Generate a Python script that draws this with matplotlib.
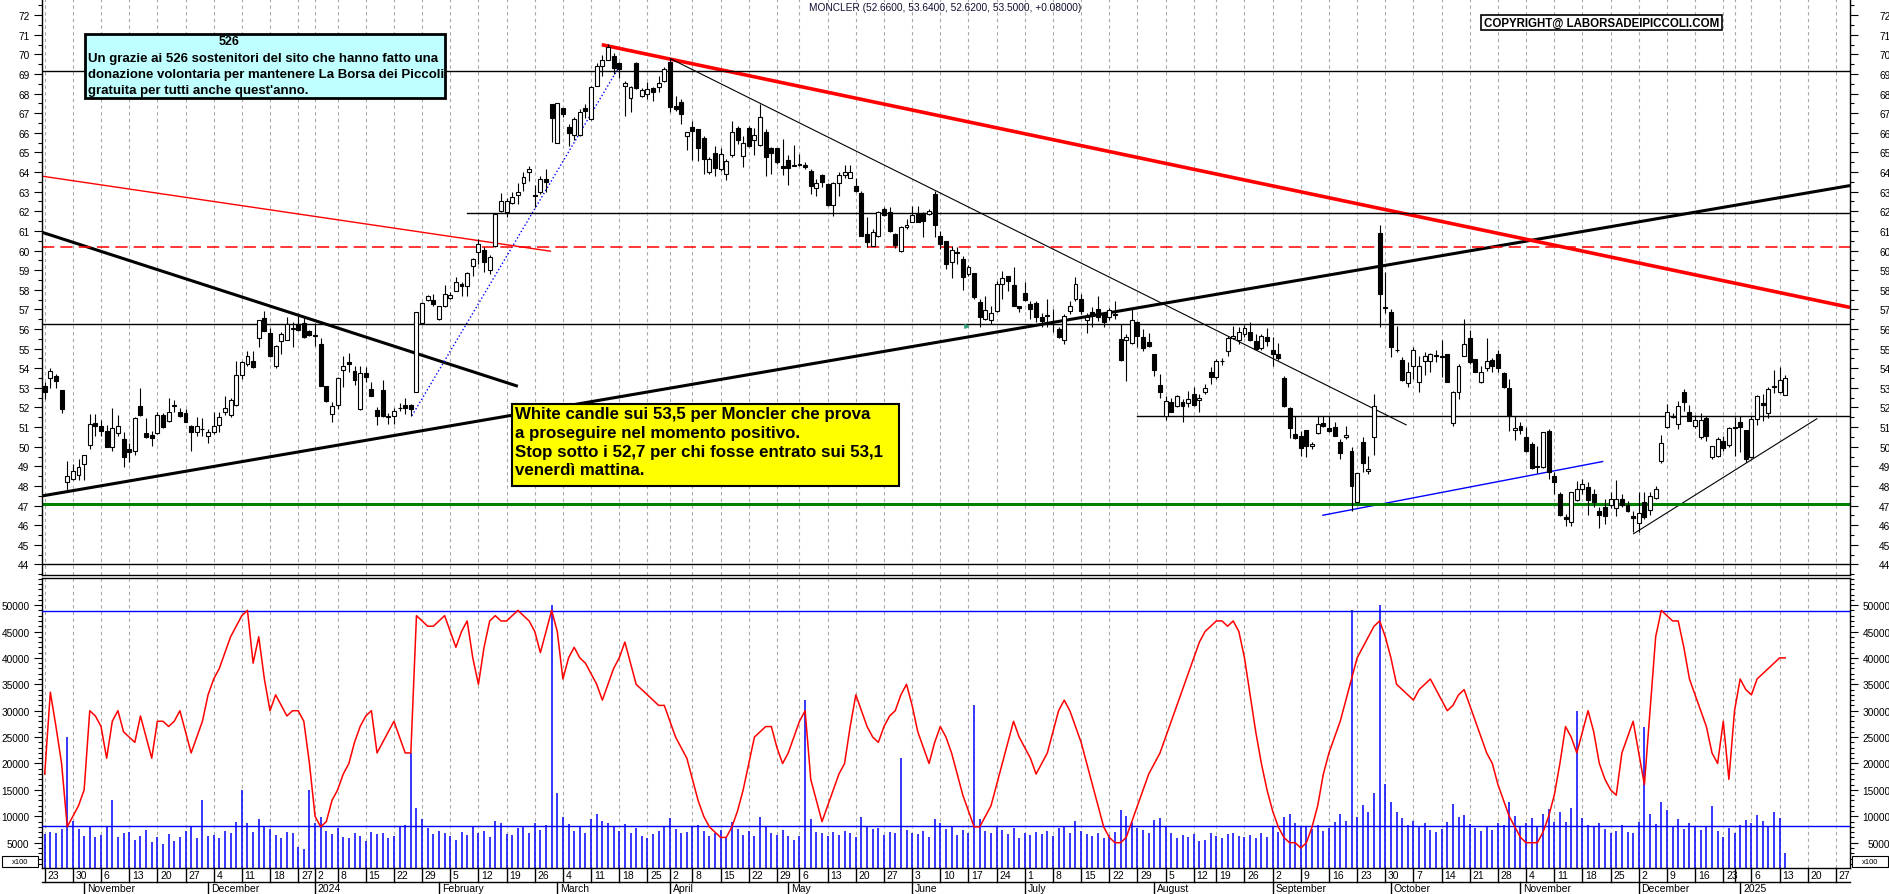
import matplotlib
matplotlib.use("Agg")
import matplotlib.pyplot as plt
from matplotlib.patches import Rectangle
import numpy as np
import pandas as pd

plt.rcParams["font.family"] = ["Liberation Sans", "DejaVu Sans"]

W, H = 1890, 895

# calendario di borsa (Borsa Italiana, festivi esclusi)
holidays = ["2023-12-25", "2023-12-26", "2024-01-01", "2024-03-29", "2024-04-01",
            "2024-05-01", "2024-08-15", "2024-12-24", "2024-12-25", "2024-12-26",
            "2024-12-31", "2025-01-01"]
cal = pd.bdate_range("2023-10-23", "2025-02-07")
cal = cal[~cal.isin(pd.to_datetime(holidays))]

opens = [53.07, 53.48, 53.6, 52.9, 48.18, 48.35, 48.55, 49.1, 50.08, 51.2,
         51.03, 50.78, 50.0, 50.7, 50.39, 49.9, 49.8, 52.05, 50.68, 50.59,
         50.7, 51.6, 51.29, 52.12, 51.75, 51.72, 51.07, 50.73, 50.9, 50.56,
         50.76, 51.13, 51.78, 51.6, 52.12, 53.67, 54.21, 54.38, 55.52, 56.56,
         55.79, 54.13, 55.38, 55.45, 56.0, 56.25, 56.3, 55.88, 55.7, 55.23,
         53.07, 51.66, 52.12, 53.92, 54.3, 53.84, 51.92, 53.75, 52.94, 51.87,
         52.89, 51.54, 51.54, 51.98, 52.15, 52.14, 52.77, 56.3, 57.49, 57.49,
         56.5, 57.15, 57.56, 57.95, 58.29, 58.17, 59.22, 59.94, 60.04, 59.0,
         60.24, 62.02, 61.97, 62.42, 62.83, 63.44, 64.01, 62.83, 62.96, 63.67,
         67.46, 65.5, 67.26, 66.3, 65.88, 65.88, 67.24, 66.7, 68.4, 69.42,
         69.72, 69.89, 69.54, 68.36, 67.75, 69.54, 67.89, 68.0, 68.26, 68.31,
         68.65, 69.59, 67.38, 67.55, 65.85, 66.3, 66.19, 65.76, 64.01, 64.99,
         64.15, 63.9, 64.86, 66.27, 64.83, 66.22, 65.65, 65.37, 66.02, 65.25,
         65.25, 64.29, 64.61, 64.36, 64.4, 64.36, 64.07, 63.17, 63.86, 63.39,
         62.32, 63.44, 63.86, 63.72, 63.27, 62.93, 60.84, 60.24, 60.72, 62.11,
         61.97, 60.84, 59.99, 61.18, 61.47, 61.86, 61.91, 61.86, 62.9, 60.72,
         60.5, 59.39, 59.9, 59.56, 58.8, 58.85, 57.36, 56.5, 56.47, 56.93,
         58.29, 58.68, 58.24, 57.15, 57.81, 57.27, 57.32, 56.59, 56.71, 56.42,
         55.99, 55.45, 56.93, 57.52, 57.52, 56.47, 56.88, 57.01, 56.84, 56.59,
         56.76, 55.49, 55.45, 55.28, 56.37, 55.57, 55.35, 54.7, 53.14, 51.58,
         52.26, 52.09, 52.26, 52.22, 52.68, 52.36, 52.77, 53.79, 53.53, 54.38,
         54.89, 55.52, 55.45, 55.74, 55.86, 55.4, 55.01, 55.57, 54.94, 54.72,
         53.48, 51.95, 50.64, 50.52, 50.86, 50.02, 50.69, 51.2, 50.93, 50.98,
         50.22, 50.47, 49.8, 47.2, 50.25, 48.74, 50.47, 60.9, 57.14, 56.88,
         54.95, 54.43, 53.24, 54.09, 53.28, 54.35, 54.38, 54.67, 54.64, 54.75,
         51.2, 52.8, 54.64, 55.52, 54.47, 53.28, 54.0, 54.43, 54.72, 53.75,
         52.97, 50.85, 51.07, 50.47, 50.13, 48.95, 48.95, 50.81, 48.52, 47.59,
         46.4, 46.18, 47.3, 47.84, 47.93, 47.59, 46.7, 46.91, 47.03, 46.86,
         47.33, 47.03, 46.45, 46.11, 47.2, 46.79, 47.37, 49.28, 50.98, 51.49,
         51.15, 52.8, 51.75, 51.03, 50.47, 51.44, 49.46, 49.51, 50.3, 50.08,
         50.98, 51.24, 50.86, 49.46, 51.41, 52.22, 51.71, 53.11, 52.77, 52.66]
highs = [53.28, 54.0, 53.7, 52.9, 49.27, 49.1, 49.37, 49.57, 51.66, 51.66,
         51.37, 51.1, 51.95, 51.6, 50.73, 50.2, 51.5, 53.0, 51.44, 50.8,
         51.75, 51.7, 52.46, 52.4, 51.95, 51.9, 51.1, 51.5, 51.44, 50.9,
         51.78, 51.78, 52.56, 52.46, 54.35, 54.38, 54.89, 54.89, 56.47, 56.93,
         56.03, 55.2, 55.83, 56.59, 56.37, 56.71, 56.54, 55.96, 56.3, 55.52,
         53.07, 52.26, 53.53, 54.6, 54.77, 54.13, 54.13, 54.04, 53.28, 52.0,
         53.4, 51.7, 51.95, 52.22, 52.5, 52.17, 56.88, 57.36, 57.73, 57.78,
         57.19, 58.24, 57.9, 58.63, 58.37, 58.88, 59.6, 60.58, 60.16, 59.77,
         61.86, 62.93, 62.7, 62.96, 63.44, 64.01, 64.29, 63.33, 63.81, 64.18,
         67.46, 67.51, 67.26, 66.44, 66.83, 67.21, 67.46, 68.36, 69.54, 69.96,
         70.52, 70.06, 69.59, 68.65, 68.4, 69.59, 68.26, 68.57, 68.31, 68.9,
         69.33, 69.79, 67.89, 67.72, 66.05, 66.6, 66.19, 65.85, 64.75, 65.34,
         65.25, 64.66, 66.61, 66.36, 65.85, 66.36, 66.27, 67.46, 66.19, 65.3,
         65.25, 65.68, 64.86, 65.37, 64.9, 64.49, 64.15, 63.67, 63.9, 63.44,
         63.47, 64.01, 64.36, 64.36, 63.72, 63.05, 61.69, 61.09, 62.03, 62.2,
         62.2, 60.89, 61.26, 61.6, 62.25, 62.28, 61.94, 62.11, 63.05, 61.0,
         60.5, 60.24, 60.16, 59.73, 59.26, 58.85, 57.52, 57.66, 57.18, 58.46,
         58.97, 58.68, 59.14, 57.18, 58.37, 57.44, 57.44, 56.84, 57.52, 57.01,
         56.08, 56.76, 57.44, 58.63, 57.78, 56.84, 57.1, 57.66, 56.84, 57.05,
         57.44, 56.25, 55.74, 57.01, 56.42, 55.99, 55.82, 54.7, 53.7, 52.6,
         52.5, 52.63, 52.43, 52.85, 53.02, 52.68, 53.19, 54.04, 54.47, 54.5,
         55.66, 56.16, 56.08, 56.2, 56.37, 55.74, 55.74, 56.03, 55.57, 55.31,
         53.62, 52.0, 51.58, 50.81, 50.86, 50.22, 51.58, 51.55, 51.58, 51.24,
         50.39, 51.07, 49.96, 48.66, 50.47, 49.51, 52.68, 61.3, 58.88, 57.01,
         56.16, 54.55, 54.3, 55.06, 54.64, 54.84, 54.8, 54.94, 55.45, 54.75,
         52.85, 54.21, 56.5, 55.96, 54.47, 54.13, 55.52, 54.5, 54.94, 53.79,
         53.45, 51.58, 51.27, 50.98, 50.22, 50.05, 50.73, 50.9, 48.69, 47.67,
         46.57, 47.71, 48.26, 48.35, 48.21, 47.84, 46.91, 47.33, 47.67, 48.31,
         47.59, 47.25, 46.74, 47.67, 47.67, 47.71, 48.01, 50.59, 52.17, 51.71,
         52.34, 52.94, 52.12, 51.61, 51.71, 51.58, 50.05, 50.47, 50.56, 50.98,
         51.49, 51.54, 50.86, 51.58, 52.63, 52.68, 53.02, 53.92, 54.04, 53.64]
lows = [52.43, 53.0, 53.0, 51.7, 47.76, 48.3, 48.3, 48.3, 49.88, 50.56,
        50.56, 49.96, 49.8, 50.56, 48.98, 49.2, 49.57, 51.57, 50.42, 50.05,
        50.64, 50.93, 51.24, 51.75, 51.5, 51.24, 49.8, 50.56, 50.56, 50.2,
        50.64, 50.73, 51.6, 51.49, 52.09, 53.45, 54.13, 53.99, 55.06, 55.88,
        54.55, 54.0, 54.72, 55.42, 55.06, 55.91, 55.54, 55.66, 55.15, 53.11,
        52.26, 51.27, 51.92, 53.02, 53.82, 53.14, 51.88, 53.28, 52.6, 51.1,
        51.49, 51.15, 51.15, 51.83, 51.66, 51.58, 52.77, 56.25, 57.44, 57.19,
        56.47, 57.1, 57.53, 57.92, 57.66, 57.66, 58.68, 59.3, 58.9, 58.8,
        60.16, 61.97, 61.69, 62.37, 62.37, 63.05, 63.55, 62.2, 62.88, 62.96,
        65.54, 65.47, 66.83, 65.34, 65.65, 65.85, 66.73, 66.66, 68.36, 68.9,
        69.72, 68.99, 68.77, 66.87, 67.04, 68.23, 67.8, 67.72, 67.63, 68.06,
        68.57, 67.04, 67.12, 66.44, 65.14, 64.6, 64.58, 63.9, 63.9, 63.81,
        64.06, 63.61, 64.75, 65.42, 64.24, 65.3, 64.86, 65.34, 63.78, 63.9,
        64.4, 63.84, 63.33, 64.29, 64.32, 64.15, 62.88, 62.79, 63.22, 62.28,
        61.74, 62.79, 63.72, 63.72, 62.96, 60.72, 60.16, 60.21, 60.67, 61.77,
        60.92, 60.11, 59.94, 61.09, 61.43, 61.43, 60.67, 61.81, 60.67, 60.07,
        59.05, 58.58, 59.31, 58.0, 58.71, 57.52, 56.08, 56.47, 56.25, 56.88,
        57.52, 57.95, 57.15, 56.85, 57.44, 56.5, 56.37, 56.08, 56.08, 55.86,
        55.52, 55.23, 56.76, 57.44, 56.76, 55.82, 56.08, 56.42, 56.08, 56.47,
        56.5, 54.38, 53.36, 55.23, 55.06, 54.89, 55.06, 53.62, 52.46, 51.37,
        51.75, 52.0, 51.24, 52.0, 52.09, 51.78, 52.68, 53.19, 53.45, 54.16,
        54.64, 55.49, 55.23, 55.57, 55.4, 54.94, 54.94, 55.14, 54.13, 54.43,
        52.0, 50.42, 50.39, 49.54, 49.45, 49.88, 50.64, 50.98, 50.73, 50.52,
        49.37, 50.39, 46.74, 47.16, 48.72, 48.61, 49.57, 56.08, 56.84, 54.55,
        54.84, 53.36, 53.02, 53.45, 52.8, 53.65, 53.82, 54.33, 53.53, 53.28,
        51.07, 52.43, 54.6, 54.21, 53.79, 53.24, 53.87, 53.82, 53.79, 52.97,
        50.81, 50.35, 50.64, 49.74, 48.86, 48.66, 48.9, 48.35, 47.59, 46.45,
        45.97, 45.97, 47.25, 47.59, 46.52, 46.91, 45.84, 46.06, 46.86, 46.48,
        46.91, 46.65, 45.67, 45.67, 46.31, 46.52, 47.33, 49.16, 50.93, 51.44,
        50.9, 51.83, 51.29, 50.93, 50.39, 50.3, 49.37, 49.46, 49.8, 49.96,
        49.54, 49.74, 49.2, 49.41, 51.1, 51.32, 51.44, 52.73, 52.73, 52.62]
closes = [52.77, 53.84, 53.33, 51.9, 48.5, 48.74, 48.94, 49.57, 51.17, 51.03,
          50.8, 49.96, 50.93, 51.03, 49.46, 49.74, 51.44, 51.6, 50.51, 50.46,
          51.6, 50.98, 51.78, 52.05, 51.54, 51.27, 50.73, 51.03, 50.88, 50.76,
          51.03, 51.49, 51.95, 52.36, 53.67, 54.3, 54.6, 54.04, 56.47, 55.91,
          54.64, 55.15, 55.76, 56.23, 56.03, 55.96, 55.57, 55.71, 55.66, 53.11,
          52.31, 52.09, 53.48, 54.13, 54.24, 53.41, 53.75, 53.53, 52.6, 51.58,
          51.54, 51.5, 51.8, 51.95, 51.95, 51.92, 56.88, 57.3, 57.69, 57.27,
          57.15, 57.76, 57.73, 58.37, 58.17, 58.83, 59.56, 60.33, 59.39, 59.68,
          61.86, 62.5, 62.53, 62.71, 62.96, 63.73, 64.15, 62.76, 63.67, 63.5,
          66.73, 67.51, 66.95, 66.0, 66.7, 67.04, 67.12, 68.31, 69.42, 69.71,
          70.35, 69.28, 69.25, 68.52, 68.31, 68.26, 68.19, 68.22, 68.06, 68.53,
          69.25, 67.29, 67.21, 66.95, 66.05, 66.1, 65.25, 64.66, 64.66, 64.23,
          64.92, 64.58, 66.05, 65.63, 65.47, 65.34, 65.88, 66.83, 64.75, 64.97,
          64.52, 64.19, 64.19, 64.32, 64.36, 64.24, 63.27, 63.44, 63.47, 62.32,
          63.44, 63.86, 63.98, 64.01, 63.05, 60.75, 60.41, 60.92, 61.94, 61.8,
          61.0, 60.28, 61.18, 61.29, 61.81, 61.47, 61.52, 62.03, 61.3, 60.33,
          59.31, 60.02, 59.85, 58.66, 59.17, 57.61, 56.59, 56.98, 56.84, 58.29,
          58.58, 58.46, 57.19, 57.05, 57.49, 57.01, 56.59, 56.42, 56.64, 56.34,
          55.57, 56.64, 57.15, 58.29, 56.93, 56.59, 56.67, 56.59, 56.37, 56.98,
          56.71, 54.43, 55.57, 56.47, 55.62, 55.01, 55.11, 53.92, 52.8, 52.34,
          51.78, 52.6, 52.05, 52.43, 52.12, 52.46, 52.97, 53.53, 54.38, 54.35,
          55.52, 55.62, 55.86, 56.03, 55.45, 54.98, 55.66, 55.4, 54.72, 54.5,
          52.05, 50.93, 50.42, 49.91, 50.02, 50.13, 51.15, 51.03, 50.81, 50.56,
          49.66, 50.61, 48.01, 48.66, 49.15, 48.86, 52.09, 57.78, 57.07, 55.1,
          54.92, 53.41, 53.79, 54.93, 54.13, 54.64, 54.75, 54.6, 54.55, 53.31,
          52.77, 54.09, 55.23, 54.3, 53.82, 53.79, 54.38, 54.09, 53.99, 53.02,
          51.61, 50.93, 50.86, 49.8, 48.9, 49.03, 50.73, 48.72, 48.21, 46.52,
          46.31, 47.67, 47.84, 48.1, 47.3, 47.2, 46.52, 46.45, 47.33, 47.33,
          47.03, 46.7, 46.38, 46.62, 46.4, 47.47, 47.84, 50.19, 51.75, 51.58,
          52.09, 52.29, 51.32, 51.37, 51.37, 50.56, 50.02, 50.39, 49.91, 50.93,
          50.93, 50.98, 49.37, 51.41, 52.6, 52.12, 52.94, 53.02, 53.42, 53.5]

# indicatore (linea rossa, migliaia) e volumi (x100), pannello inferiore
osc = [18, 33.5, 27, 20, 8, 10, 12, 15, 30, 29, 27, 21, 28, 30, 26,
       25, 24, 29, 25, 21, 28, 28, 27, 28, 30, 26, 22, 25, 28, 33,
       36, 38, 41, 44, 46, 48, 49, 39, 44, 36, 30, 33, 31, 29, 30,
       30, 28, 20, 10, 8, 9, 13, 15, 18, 20, 24, 27, 29, 30, 22,
       24, 26, 28, 25, 22, 22, 48, 47, 46, 46, 47, 48, 45, 42, 45,
       47, 40, 35, 42, 47, 48, 47, 47, 48, 49, 48, 47, 45, 41, 45,
       49, 45, 36, 40, 42, 40, 39, 37, 35, 32, 35, 38, 40, 43, 39,
       35, 34, 33, 32, 31, 31, 28, 25, 23, 21, 17, 13, 10, 8, 7,
       6, 6, 8, 11, 15, 20, 25, 26, 27, 27, 23, 20, 22, 25, 28,
       30, 17, 13, 9, 12, 15, 18, 20, 27, 33, 30, 27, 25, 24, 27,
       29, 30, 33, 35, 31, 26, 23, 20, 24, 27, 25, 22, 18, 14, 11,
       8, 8, 10, 12, 16, 20, 24, 28, 25, 23, 21, 18, 20, 22, 26,
       30, 32, 30, 27, 24, 20, 16, 12, 8, 6, 5, 5, 6, 9, 12,
       15, 18, 20, 22, 25, 28, 31, 34, 37, 40, 43, 45, 46, 47, 47,
       46, 47, 45, 40, 33, 26, 20, 15, 11, 8, 6, 5, 5, 4, 5,
       8, 12, 18, 22, 25, 28, 32, 36, 40, 42, 44, 46, 47, 44, 40,
       35, 34, 33, 32, 34, 35, 36, 34, 32, 30, 31, 33, 34, 31, 28,
       25, 22, 20, 16, 13, 10, 8, 6, 5, 5, 5, 7, 10, 14, 20,
       27, 25, 22, 26, 30, 26, 20, 17, 15, 14, 22, 25, 28, 22, 16,
       30, 44, 49, 48, 47, 47, 42, 36, 33, 30, 27, 22, 20, 28, 17,
       30, 36, 34, 33, 36, 37, 38, 39, 40, 40]
volumes = [6600, 7000, 6900, 7500, 25100, 9200, 7600, 6300, 8200, 6000,
           6500, 8200, 13100, 6000, 6800, 7000, 5500, 6200, 7400, 5200,
           6000, 4800, 6600, 5400, 6100, 7200, 8000, 5900, 13000, 6300,
           6500, 5800, 7300, 6800, 9000, 15000, 8800, 7000, 9500, 8200,
           7600, 6400, 5900, 7100, 6900, 4200, 3800, 15000, 8800, 9900,
           7200, 6600, 7800, 6100, 5900, 6800, 6200, 5400, 7000, 6600,
           6900, 5800, 6200, 7900, 8400, 22000, 11500, 9400, 7800, 6700,
           7200, 6800, 6300, 5600, 7100, 6500, 8200, 6900, 7300, 6100,
           9200, 8700, 6600, 6400, 7700, 8100, 6900, 8800, 7400, 8300,
           50000, 14500, 9800, 8600, 7200, 7900, 6800, 9400, 10500, 9100,
           8800, 7900, 7200, 8600, 6900, 7700, 6200, 5800, 6600, 7300,
           8200, 9700, 7600, 6800, 7000, 7900, 8400, 7200, 6300, 6800,
           7400, 6100, 8900, 7600, 6400, 7200, 6300, 9800, 8100, 6900,
           6500, 7400, 6200, 5600, 6300, 32000, 9400, 7100, 6800, 6200,
           7000, 6400, 7300, 6800, 6000, 9900, 8200, 7500, 7800, 6400,
           7100, 6800, 21000, 7400, 6900, 6600, 7200, 6100, 9400, 8800,
           7600, 7900, 6500, 7400, 6800, 31000, 9500, 7200, 6900, 8100,
           7400, 6600, 7800, 5800, 6900, 6400, 7100, 6600, 7300, 6200,
           7800, 7900, 6800, 9100, 7200, 6600, 6200, 6900, 5800, 6500,
           7000, 11200, 10100, 8900, 7800, 7400, 6800, 9300, 9600, 7900,
           6800, 5900, 6500, 6100, 6700, 5400, 5600, 6900, 6300, 5800,
           6600, 6900, 6200, 6000, 6400, 5800, 6800, 6100, 8200, 7000,
           9800, 10500, 8700, 8100, 7900, 7600, 8400, 7200, 7800, 8900,
           10400, 9200, 49000, 9800, 12100, 10900, 14500, 50000, 16200, 12800,
           10800, 9700, 8400, 9200, 7900, 8800, 7400, 7100, 7600, 8900,
           12300, 9800, 10200, 8600, 7700, 7200, 8100, 7400, 8800, 8300,
           12800, 10100, 7900, 8700, 9600, 8200, 10400, 11300, 9000, 10800,
           8900, 11600, 30000, 9700, 8300, 7900, 8800, 7600, 6800, 7200,
           8400, 7100, 6900, 9000, 27000, 10500, 8600, 12800, 11100, 8200,
           9400, 7600, 8700, 8200, 7400, 7900, 12000, 7300, 6100, 7800,
           6900, 8400, 9300, 8800, 10300, 9200, 8200, 10800, 9700, 3000]

# linee tracciate a mano: (indice barra, prezzo) -> (indice barra, prezzo)
trend_lines = [
    ((-0.48, 60.93), (84.0, 53.08), "black", 2.2, "-"),
    ((-0.48, 47.49), (320.5, 63.31), "black", 2.2, "-"),
    ((-0.48, 63.79), (89.9, 59.96), "red", 1.0, "-"),
    ((98.9, 70.49), (320.5, 57.1), "red", 2.6, "-"),
    ((111.0, 69.79), (241.8, 51.1), "black", 0.8, "-"),
    ((65.2, 51.58), (101.9, 69.33), "blue", 1.0, ":"),
    ((226.8, 46.5), (276.7, 49.25), "blue", 1.0, "-"),
    ((282.0, 45.55), (314.7, 51.44), "black", 0.8, "-"),
]
# livelli orizzontali: (prezzo, da indice, colore, spessore, stile)
levels = [
    (69.13, -0.48, "black", 1.0, "-"),
    (61.9, 75.0, "black", 1.0, "-"),
    (60.2, -0.48, "red", 1.1, (0, (8, 4))),
    (56.23, -0.48, "black", 1.0, "-"),
    (51.56, 194.0, "black", 1.0, "-"),
    (47.09, -0.48, "#008000", 2.2, "-"),
    (44.0, -0.48, "black", 1.0, "-"),
]
vol_levels = [48800, 8200]

XMIN, XMAX = -0.48, 320.5
n = len(closes)
x = np.arange(n)


def px_box(x0, y0, x1, y1):
    return [x0 / W, 1 - y1 / H, (x1 - x0) / W, (y1 - y0) / H]


fig = plt.figure(figsize=(W / 100, H / 100), dpi=100)
ax1 = fig.add_axes(px_box(42, 0, 1850, 576))
ax2 = fig.add_axes(px_box(42, 579, 1850, 869))

# settimane e mesi
dates = cal[cal <= cal[int(XMAX)]]
week_start = [i for i in range(len(dates))
              if i == 0 or dates[i].isocalendar()[1] != dates[i - 1].isocalendar()[1]]
month_start = [i for i in range(len(dates))
               if i > 0 and dates[i].month != dates[i - 1].month]

for ax in (ax1, ax2):
    ax.set_xlim(XMIN, XMAX)
    for w in week_start:
        ax.axvline(w, color="#a8a8a8", lw=0.8, ls=(0, (3, 3)), zorder=0)
    ax.set_xticks([])
    for s in ax.spines.values():
        s.set_linewidth(1.0)
    ax.tick_params(axis="y", which="both", left=True, right=True,
                   labelleft=True, labelright=True, direction="out",
                   labelsize=7.3, colors="black", width=0.8)
    ax.tick_params(axis="y", which="major", length=6, pad=3)
    ax.tick_params(axis="y", which="minor", length=3)
    ax.spines["top"].set_visible(ax is ax2)

# pannello prezzi
ax1.set_ylim(43.46, 72.82)
ax1.set_yticks(range(44, 73))
ax1.set_yticks(np.arange(43.5, 72.6, 1.0), minor=True)

for x0y0, x1y1, col, lw, ls in trend_lines:
    ax1.plot([x0y0[0], x1y1[0]], [x0y0[1], x1y1[1]], color=col, lw=lw, ls=ls,
             zorder=2, solid_capstyle="butt")
for p, start, col, lw, ls in levels:
    ax1.plot([start, XMAX], [p, p], color=col, lw=lw, ls=ls, zorder=2)

# frecce piccole
ax1.annotate("", xy=(164.8, 56.13), xytext=(163.0, 56.13),
             arrowprops=dict(arrowstyle="-|>", color="#30a080", lw=1.2,
                             mutation_scale=6))
ax1.annotate("", xy=(179.9, 56.13), xytext=(181.6, 56.13),
             arrowprops=dict(arrowstyle="-|>", color="red", lw=1.2,
                             mutation_scale=6))

o = np.array(opens)
c = np.array(closes)
ax1.vlines(x, lows, highs, color="black", lw=0.8, zorder=3)
up = c >= o
body_h = np.maximum(np.abs(c - o), 0.02)
ax1.bar(x[up], body_h[up], bottom=o[up], width=0.7, color="white",
        edgecolor="black", linewidth=0.8, zorder=4)
ax1.bar(x[~up], body_h[~up], bottom=c[~up], width=0.7, color="black",
        edgecolor="black", linewidth=0.8, zorder=4)

# pannello volumi / indicatore
ax2.set_ylim(208, 55133)
ax2.set_yticks(range(5000, 50001, 5000))
ax2.set_yticks(range(1000, 55001, 1000), minor=True)
ax2.vlines(x, 0, volumes, color="blue", lw=1.1, zorder=2)
for v in vol_levels:
    ax2.axhline(v, color="blue", lw=1.0, zorder=3)
ax2.plot(x, np.array(osc) * 1000, color="red", lw=1.1, zorder=4)

# etichette a destra allineate a destra (x = 1887 px)
for ax in (ax1, ax2):
    for tick in ax.yaxis.get_major_ticks():
        tick.label2.set_horizontalalignment("right")
        tick.label2.set_x(1.0 + (1887 - 1850 - 9) / 1808)

# asse date
tr = ax2.get_xaxis_transform()
hgt = 869 - 579
r1 = -14 / hgt
r2 = -26.5 / hgt
ax2.plot([XMIN, XMAX], [r1, r1], transform=tr, color="black", lw=1.0,
         clip_on=False)
for w in week_start:
    ax2.plot([w, w], [0, r1], transform=tr, color="black", lw=1.0, clip_on=False)
    if (w + 1) in month_start and dates[w].month == 12:
        continue
    ax2.text(w + 0.5, r1 / 2, str(dates[w].day), transform=tr, fontsize=7.5,
             ha="left", va="center", clip_on=False)
month_names = {1: None, 2: "February", 3: "March", 4: "April", 5: "May",
               6: "June", 7: "July", 8: "August", 9: "September",
               10: "October", 11: "November", 12: "December"}
for m in month_start:
    d = dates[m]
    lab = month_names[d.month] or str(d.year)
    ax2.plot([m, m], [r1, r2], transform=tr, color="black", lw=1.0,
             clip_on=False)
    ax2.text(m + 0.5, (r1 + r2) / 2, lab, transform=tr, fontsize=7.5,
             ha="left", va="center", clip_on=False)

# riquadri di testo sovrapposti
ov = fig.add_axes([0, 0, 1, 1])
ov.set_xlim(0, W)
ov.set_ylim(H, 0)
ov.axis("off")

ov.add_patch(Rectangle((85, 35), 360, 64, facecolor="#c0ffff",
                       edgecolor="black", lw=2))
ov.text(229, 42, "526", fontsize=9, fontweight="bold", ha="center",
        va="center")
for k, line in enumerate([
        "Un grazie ai 526 sostenitori del sito che hanno fatto una",
        "donazione volontaria per mantenere La Borsa dei Piccoli",
        "gratuita per tutti anche quest'anno."]):
    ov.text(88, 59 + 16 * k, line, fontsize=9.5, fontweight="bold",
            ha="left", va="center")

ov.add_patch(Rectangle((512, 405), 387, 82, facecolor="yellow",
                       edgecolor="black", lw=1.5))
for k, line in enumerate([
        "White candle sui 53,5 per Moncler che prova",
        "a proseguire nel momento positivo.",
        "Stop sotto i 52,7 per chi fosse entrato sui 53,1",
        "venerdì mattina."]):
    ov.text(515, 415 + 18.5 * k, line, fontsize=12.2, fontweight="bold",
            ha="left", va="center")

ov.text(945, 8, "MONCLER (52.6600, 53.6400, 52.6200, 53.5000, +0.08000)",
        fontsize=7.25, color="#101030", ha="center", va="center")
ov.add_patch(Rectangle((1481, 16), 241, 15, facecolor="white",
                       edgecolor="black", lw=1.2))
ov.text(1601.5, 24, "COPYRIGHT@ LABORSADEIPICCOLI.COM", fontsize=8.3,
        fontweight="bold", ha="center", va="center")

for bx in (2, 1852):
    ov.add_patch(Rectangle((bx, 857), 36, 11, facecolor="white",
                           edgecolor="black", lw=0.8))
    ov.text(bx + 18, 862.5, "x100", fontsize=5.5, ha="center", va="center")

fig.savefig("out.png", dpi=100)
